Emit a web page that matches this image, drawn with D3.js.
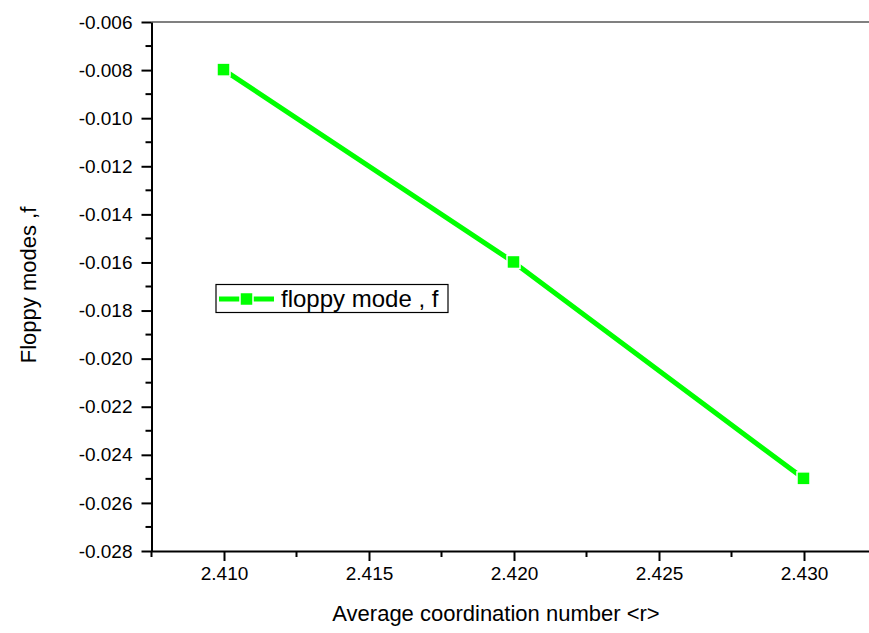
<!DOCTYPE html>
<html>
<head>
<meta charset="utf-8">
<script src="https://cdn.jsdelivr.net/npm/d3@7"></script>
<style>
  body { margin: 0; background: #fff; }
  text { font-family: Arial, "Liberation Sans", sans-serif; fill: #000; }
</style>
</head>
<body>
<svg id="chart" width="869" height="633"></svg>
<script>
// data
const coordNumbers = [2.410, 2.420, 2.430];
const floppyModes = [-0.008, -0.016, -0.025];
const seriesName = 'floppy mode , f';
const xTicks = [2.410, 2.415, 2.420, 2.425, 2.430];
const yTicks = [-0.006, -0.008, -0.010, -0.012, -0.014, -0.016, -0.018, -0.020, -0.022, -0.024, -0.026, -0.028];

const svg = d3.select('#chart');
const plotLeft = 151.5, plotTop = 22, plotBottom = 551, plotRight = 876.5;
const green = '#00ff00';

const x = d3.scaleLinear().domain([2.4075, 2.4325]).range([plotLeft, plotRight]);
const y = d3.scaleLinear().domain([-0.006, -0.028]).range([plotTop, plotBottom]);

// top frame line (gray)
svg.append('line')
    .attr('x1', plotLeft).attr('x2', 869)
    .attr('y1', plotTop).attr('y2', plotTop)
    .attr('stroke', '#808080').attr('stroke-width', 2);

// minor ticks
const xMinor = d3.range(2.4075, 2.4326, 0.005);
const yMinor = d3.range(-0.007, -0.0285, -0.002);

const xAxisG = svg.append('g').attr('transform', `translate(0,${plotBottom})`);
xAxisG.selectAll('line.minor').data(xMinor).enter().append('line')
    .attr('x1', d => x(d)).attr('x2', d => x(d))
    .attr('y1', 0).attr('y2', 6)
    .attr('stroke', '#000').attr('stroke-width', 2);
xAxisG.call(d3.axisBottom(x).tickValues(xTicks).tickFormat(d3.format('.3f'))
        .tickSize(10).tickSizeOuter(0).tickPadding(6))
    .call(g => g.select('.domain').attr('stroke-width', 2))
    .call(g => g.selectAll('.tick line').attr('stroke-width', 2))
    .call(g => g.selectAll('.tick text').attr('font-size', 19).attr('font-family', null));

const yAxisG = svg.append('g').attr('transform', `translate(${plotLeft},0)`);
yAxisG.selectAll('line.minor').data(yMinor).enter().append('line')
    .attr('y1', d => y(d)).attr('y2', d => y(d))
    .attr('x1', 0).attr('x2', -6)
    .attr('stroke', '#000').attr('stroke-width', 2);
yAxisG.call(d3.axisLeft(y).tickValues(yTicks).tickFormat(d3.format('.3f'))
        .tickSize(10).tickSizeOuter(0).tickPadding(9))
    .call(g => g.select('.domain').attr('stroke-width', 2))
    .call(g => g.selectAll('.tick line').attr('stroke-width', 2))
    .call(g => g.selectAll('.tick text').attr('font-size', 19).attr('font-family', null)
        .text(d => d3.format('.3f')(d).replace('\u2212', '-')));

// axis titles
svg.append('text')
    .attr('x', 496).attr('y', 621)
    .attr('text-anchor', 'middle')
    .attr('font-size', 22)
    .text('Average coordination number <r>');

svg.append('text')
    .attr('transform', 'translate(36,285) rotate(-90)')
    .attr('text-anchor', 'middle')
    .attr('font-size', 22)
    .text('Floppy modes ,f');

// series
const pts = coordNumbers.map((c, i) => [c, floppyModes[i]]);

svg.append('path')
    .datum(pts)
    .attr('fill', 'none')
    .attr('stroke', green)
    .attr('stroke-width', 5)
    .attr('d', d3.line().x(d => x(d[0])).y(d => y(d[1])));

svg.selectAll('rect.marker').data(pts).enter().append('rect')
    .attr('class', 'marker')
    .attr('x', d => x(d[0]) - 7).attr('y', d => y(d[1]) - 7)
    .attr('width', 13).attr('height', 13)
    .attr('fill', green)
    .attr('stroke', '#fff').attr('stroke-width', 1.5);

// legend
const lg = svg.append('g');
lg.append('rect')
    .attr('x', 216).attr('y', 284.5)
    .attr('width', 232).attr('height', 28)
    .attr('fill', '#fff').attr('stroke', '#000').attr('stroke-width', 1.2);
lg.append('line')
    .attr('x1', 219).attr('x2', 274)
    .attr('y1', 299).attr('y2', 299)
    .attr('stroke', green).attr('stroke-width', 5);
lg.append('rect')
    .attr('x', 240).attr('y', 292.5)
    .attr('width', 13).attr('height', 13)
    .attr('fill', green)
    .attr('stroke', '#fff').attr('stroke-width', 1.5);
lg.append('text')
    .attr('x', 281).attr('y', 307)
    .attr('font-size', 24)
    .text(seriesName);
</script>
</body>
</html>
